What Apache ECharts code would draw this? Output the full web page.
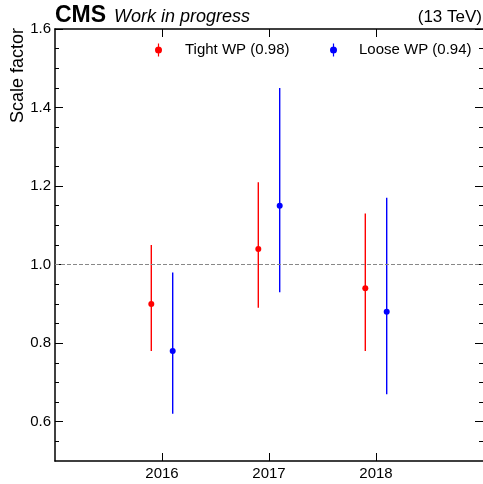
<!DOCTYPE html>
<html>
<head>
<meta charset="utf-8">
<script src="https://cdn.jsdelivr.net/npm/echarts@6/dist/echarts.min.js"></script>
<style>
  html, body { margin: 0; padding: 0; background: #fff; }
  #chart { width: 483px; height: 484px; }
</style>
</head>
<body>
<div id="chart"></div>
<script>
// Data-taking years and measured scale factors with their uncertainty bands
const years = [2016, 2017, 2018];
const tightSF   = [0.90, 1.04, 0.94];
const tightLow  = [0.78, 0.89, 0.78];
const tightHigh = [1.05, 1.21, 1.13];
const looseSF   = [0.78, 1.15, 0.88];
const looseLow  = [0.62, 0.93, 0.67];
const looseHigh = [0.98, 1.45, 1.17];

// Axis tick values
const yMajorTicks = [0.6, 0.8, 1.0, 1.2, 1.4, 1.6];
const yMinorTicks = [0.55, 0.65, 0.7, 0.75, 0.85, 0.9, 0.95, 1.05, 1.1, 1.15,
                     1.25, 1.3, 1.35, 1.45, 1.5, 1.55];
const xTickLabels = [2016, 2017, 2018];

const FONT = '"Liberation Sans", Arial, Helvetica, sans-serif';
const SHIFT = 0.1; // horizontal offset of each working point around the year
const RED = '#ff0000';
const BLUE = '#0000ff';

function rows(sf, lo, hi) {
  return years.map((y, i) => [y, sf[i], lo[i], hi[i]]);
}

function errorBarRenderer(shift, color) {
  return function (params, api) {
    const x = api.value(0) + shift;
    const c = api.coord([x, api.value(1)]);
    const lo = api.coord([x, api.value(2)]);
    const hi = api.coord([x, api.value(3)]);
    return {
      type: 'group',
      children: [
        { type: 'line', shape: { x1: lo[0], y1: lo[1], x2: hi[0], y2: hi[1] },
          style: { stroke: color, lineWidth: 1.4 } },
        { type: 'circle', shape: { cx: c[0], cy: c[1], r: 3 },
          style: { fill: color } }
      ]
    };
  };
}

// Marker with a short vertical bar, used as the legend symbol
const legendIcon = 'path://M2.9,0H4.1V13H2.9Z M0,6.5A3.5,3.5 0 1 1 7,6.5A3.5,3.5 0 1 1 0,6.5Z';

function tickAxis(pos, values, len) {
  return {
    type: 'value', position: pos, min: 0.5, max: 1.6,
    axisLine: { show: false, onZero: false },
    axisTick: { show: true, inside: true, length: len, customValues: values,
                lineStyle: { color: '#000', width: 1 } },
    axisLabel: { show: false },
    splitLine: { show: false }
  };
}

function legendBlock(left, name, color, pad) {
  return {
    left: left, top: 37.5, itemWidth: 7, itemHeight: 13, selectedMode: false,
    data: [{ name: name, icon: legendIcon,
             itemStyle: { color: color, borderWidth: 0, opacity: 1 } }],
    textStyle: { fontFamily: FONT, fontSize: 15, color: '#000', padding: [0, 0, 0, pad] }
  };
}

const chart = echarts.init(document.getElementById('chart'), null, { renderer: 'canvas' });

chart.setOption({
  animation: false,
  backgroundColor: '#fff',
  textStyle: { fontFamily: FONT },
  grid: { left: 55, top: 29, width: 429, height: 432, containLabel: false },
  legend: [
    legendBlock(150, 'Tight WP (0.98)', RED, 18),
    legendBlock(325, 'Loose WP (0.94)', BLUE, 17)
  ],
  xAxis: [
    {
      type: 'value', position: 'bottom', min: 2015, max: 2019, interval: 1,
      axisLine: { show: true, onZero: false, lineStyle: { color: '#000', width: 1.5 } },
      axisTick: { show: true, inside: true, length: 8, customValues: xTickLabels,
                  lineStyle: { color: '#000', width: 1 } },
      axisLabel: { show: true, customValues: xTickLabels, margin: 5,
                   fontFamily: FONT, fontSize: 15, color: '#000',
                   formatter: v => String(v) },
      splitLine: { show: false }
    },
    {
      type: 'value', position: 'top', min: 2015, max: 2019, interval: 1,
      axisLine: { show: true, onZero: false, lineStyle: { color: '#000', width: 1.5 } },
      axisTick: { show: true, inside: true, length: 8, customValues: xTickLabels,
                  lineStyle: { color: '#000', width: 1 } },
      axisLabel: { show: false },
      splitLine: { show: false }
    }
  ],
  yAxis: [
    {
      type: 'value', position: 'left', min: 0.5, max: 1.6,
      axisLine: { show: true, onZero: false, lineStyle: { color: '#000', width: 1.5 } },
      axisTick: { show: true, inside: true, length: 8, customValues: yMajorTicks,
                  lineStyle: { color: '#000', width: 1 } },
      axisLabel: { show: true, customValues: yMajorTicks, margin: 4,
                   fontFamily: FONT, fontSize: 15, color: '#000',
                   formatter: v => v.toFixed(1) },
      splitLine: { show: false }
    },
    tickAxis('left', yMinorTicks, 4),
    tickAxis('right', yMajorTicks, 8),
    tickAxis('right', yMinorTicks, 4)
  ],
  graphic: [
    { type: 'text', x: 55, y: 15.5,
      style: { text: 'CMS', font: 'bold 23px ' + FONT, fill: '#000',
               textAlign: 'left', textVerticalAlign: 'middle' } },
    { type: 'text', x: 114, y: 17,
      style: { text: 'Work in progress', font: 'italic 18px ' + FONT, fill: '#000',
               textAlign: 'left', textVerticalAlign: 'middle' } },
    { type: 'text', x: 482, y: 17.5,
      style: { text: '(13 TeV)', font: '17px ' + FONT, fill: '#000',
               textAlign: 'right', textVerticalAlign: 'middle' } },
    { type: 'text', x: 18.5, y: 28, rotation: Math.PI / 2,
      style: { text: 'Scale factor', font: '18px ' + FONT, fill: '#000',
               textAlign: 'right', textVerticalAlign: 'middle' } }
  ],
  series: [
    {
      name: 'Tight WP (0.98)', type: 'custom',
      xAxisIndex: 0, yAxisIndex: 0,
      itemStyle: { color: RED },
      renderItem: errorBarRenderer(-SHIFT, RED),
      encode: { x: 0, y: [1, 2, 3] },
      data: rows(tightSF, tightLow, tightHigh),
      markLine: {
        silent: true, symbol: 'none', label: { show: false },
        lineStyle: { color: '#888', type: [4, 2], width: 1 },
        data: [{ yAxis: 1.0 }]
      },
      z: 3
    },
    {
      name: 'Loose WP (0.94)', type: 'custom',
      xAxisIndex: 0, yAxisIndex: 0,
      itemStyle: { color: BLUE },
      renderItem: errorBarRenderer(SHIFT, BLUE),
      encode: { x: 0, y: [1, 2, 3] },
      data: rows(looseSF, looseLow, looseHigh),
      z: 3
    }
  ]
});
</script>
</body>
</html>
